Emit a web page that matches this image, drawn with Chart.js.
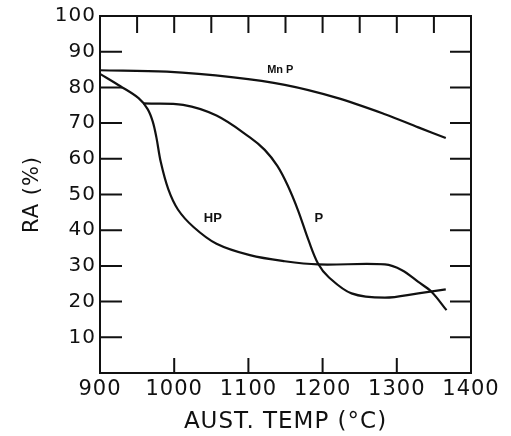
<!DOCTYPE html>
<html>
<head>
<meta charset="utf-8">
<script src="https://cdn.jsdelivr.net/npm/chart.js@4"></script>
<style>
  html, body { margin: 0; padding: 0; background: #fff; }
  #wrap { width: 511px; height: 436px; }
</style>
</head>
<body>
<div id="wrap"><canvas id="raChart"></canvas></div>
<script>
// values (temp in degC, RA in %)
var mnpTemp = [900, 990, 1080, 1149, 1217, 1284, 1329, 1366];
var mnpRA   = [84.8, 84.4, 82.8, 80.7, 77.2, 72.5, 68.8, 65.8];

var hpTemp = [900, 927, 952, 964, 971, 976, 982, 992, 1005, 1026, 1057, 1102, 1149, 1194, 1284, 1307, 1329, 1347, 1367];
var hpRA   = [83.8, 80.4, 77, 74, 70.5, 66, 59, 51.5, 45.8, 40.9, 36.2, 33, 31.3, 30.4, 30.4, 28.8, 25.5, 22.7, 17.6];

var pTemp = [958, 1012, 1057, 1102, 1122, 1139, 1153, 1167, 1181, 1194, 1208, 1239, 1284, 1329, 1366];
var pRA   = [75.5, 75.1, 72.1, 66, 62.5, 58, 52.5, 45.5, 37.2, 30.6, 26.9, 22.3, 21.1, 22.3, 23.4];

var xTicks = [900, 1000, 1100, 1200, 1300, 1400];
var topTicks = [950, 1000, 1050, 1100, 1150, 1200, 1250, 1300, 1350];
var bottomTicks = [1000, 1100, 1200, 1300];
var sideTicks = [10, 20, 30, 40, 50, 60, 70, 80, 90];

var curveLabels = [
    { text: 'Mn P', x: 1143, y: 84.9, size: 11 },
    { text: 'HP', x: 1052, y: 43.3, size: 13 },
    { text: 'P', x: 1195, y: 43.3, size: 13 }
];

function toPoints(xs, ys) {
    return xs.map(function (x, i) { return { x: x, y: ys[i] }; });
}

function curve(xs, ys) {
    return {
        data: toPoints(xs, ys),
        borderColor: '#111',
        borderWidth: 2.2,
        pointRadius: 0,
        fill: false,
        tension: 0.35
    };
}

// wider lettering like the original figure
var spacing = {
    id: 'spacing',
    beforeLayout: function (chart) { chart.ctx.letterSpacing = '1px'; },
    beforeDraw: function (chart) { chart.ctx.letterSpacing = '1px'; }
};

// box frame, inward tick marks, curve labels
var frame = {
    id: 'frame',
    afterDraw: function (chart) {
        var ctx = chart.ctx;
        var a = chart.chartArea;
        var xs = chart.scales.x, ys = chart.scales.y;
        ctx.save();
        ctx.letterSpacing = '0px';
        ctx.strokeStyle = '#111';
        ctx.lineWidth = 2;
        ctx.strokeRect(a.left, a.top, a.right - a.left, a.bottom - a.top);
        ctx.beginPath();
        sideTicks.forEach(function (v) {
            var py = ys.getPixelForValue(v);
            ctx.moveTo(a.left, py); ctx.lineTo(a.left + 22, py);
            ctx.moveTo(a.right, py); ctx.lineTo(a.right - 21, py);
        });
        topTicks.forEach(function (v) {
            var px = xs.getPixelForValue(v);
            ctx.moveTo(px, a.top); ctx.lineTo(px, a.top + 17);
        });
        bottomTicks.forEach(function (v) {
            var px = xs.getPixelForValue(v);
            ctx.moveTo(px, a.bottom); ctx.lineTo(px, a.bottom - 15);
        });
        ctx.stroke();

        ctx.fillStyle = '#111';
        ctx.textAlign = 'center';
        ctx.textBaseline = 'middle';
        curveLabels.forEach(function (l) {
            ctx.font = 'bold ' + l.size + 'px "Liberation Sans", Arial, sans-serif';
            ctx.fillText(l.text, xs.getPixelForValue(l.x), ys.getPixelForValue(l.y));
        });
        ctx.restore();
    }
};

new Chart(document.getElementById('raChart'), {
    type: 'line',
    data: {
        datasets: [curve(mnpTemp, mnpRA), curve(hpTemp, hpRA), curve(pTemp, pRA)]
    },
    options: {
        responsive: true,
        maintainAspectRatio: false,
        animation: false,
        layout: { padding: { top: 15, right: 40, left: 0, bottom: 0 } },
        plugins: { legend: { display: false }, tooltip: { enabled: false } },
        scales: {
            x: {
                type: 'linear',
                min: 900,
                max: 1400,
                afterBuildTicks: function (s) {
                    s.ticks = xTicks.map(function (v) { return { value: v }; });
                },
                afterFit: function (s) { s.height = 63; },
                grid: { display: true, drawOnChartArea: false, drawTicks: false },
                border: { display: true, color: '#111', width: 2 },
                ticks: {
                    color: '#111',
                    padding: 4,
                    maxRotation: 0,
                    autoSkip: false,
                    font: { family: '"DejaVu Sans"', size: 21 },
                    callback: function (v) { return String(v); }
                },
                title: {
                    display: true,
                    text: 'AUST. TEMP (°C)',
                    color: '#111',
                    padding: { top: 0, bottom: 0 },
                    font: { family: '"DejaVu Sans"', size: 23 }
                }
            },
            y: {
                min: 0,
                max: 100,
                afterFit: function (s) { s.width = 100; },
                grid: { display: true, drawOnChartArea: false, drawTicks: false },
                border: { display: true, color: '#111', width: 2 },
                ticks: {
                    stepSize: 10,
                    color: '#111',
                    padding: 4,
                    font: { family: '"DejaVu Sans"', size: 20 },
                    callback: function (v) { return v === 0 ? '' : String(v); }
                },
                title: {
                    display: true,
                    text: 'RA (%)',
                    color: '#111',
                    padding: { top: 20, bottom: 0 },
                    font: { family: '"DejaVu Sans"', size: 21 }
                }
            }
        }
    },
    plugins: [spacing, frame]
});
</script>
</body>
</html>
